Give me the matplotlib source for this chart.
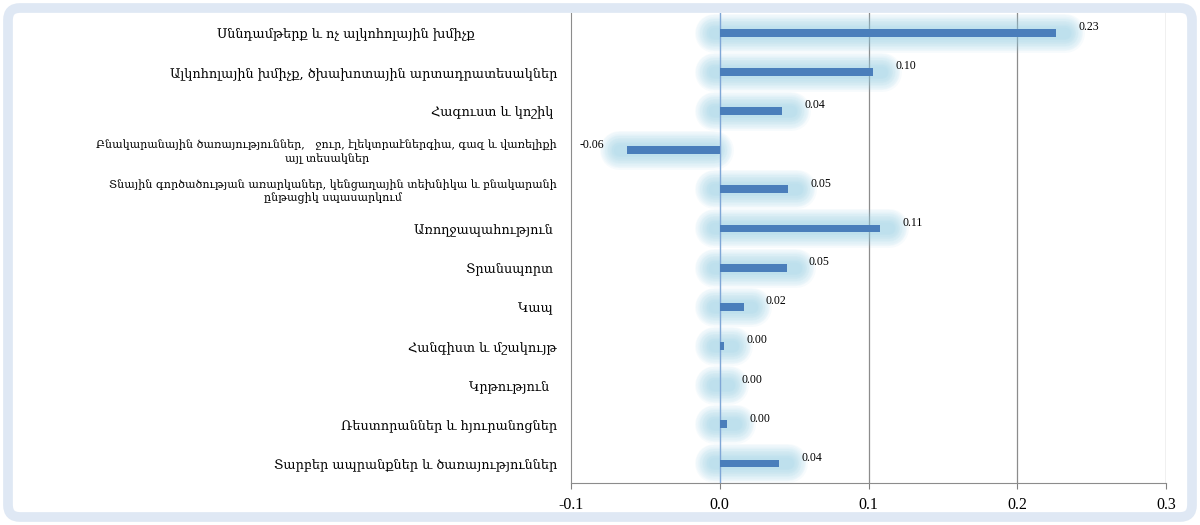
import matplotlib
matplotlib.use("Agg")
import matplotlib.pyplot as plt
from matplotlib.patches import FancyBboxPatch

# categories (top to bottom) and values
categories = [
    "Սննդամթերք և ոչ ալկոհոլային խմիչք                    ",
    "Ալկոհոլային խմիչք, ծխախոտային արտադրատեսակներ",
    "Հագուստ և կոշիկ ",
    "Բնակարանային ծառայություններ,   ջուր, էլեկտրաէներգիա, գազ և վառելիքի\nայլ տեսակներ",
    "Տնային գործածության առարկաներ, կենցաղային տեխնիկա և բնակարանի\nընթացիկ սպասարկում",
    "Առողջապահություն ",
    "Տրանսպորտ ",
    "Կապ ",
    "Հանգիստ և մշակույթ",
    "Կրթություն  ",
    "Ռեստորաններ և հյուրանոցներ",
    "Տարբեր ապրանքներ և ծառայություններ",
]
values = [0.226, 0.103, 0.042, -0.062, 0.046, 0.108, 0.045, 0.016, 0.003, 0.0, 0.005, 0.040]
value_labels = ["0.23", "0.10", "0.04", "-0.06", "0.05", "0.11", "0.05", "0.02", "0.00", "0.00", "0.00", "0.04"]
xticks = [-0.1, 0.0, 0.1, 0.2, 0.3]

bar_color = "#4a7ebb"
glow_color = "#8fcde4"
arm_font = ["DejaVu Serif", "DejaVu Sans"]
num_font = ["Liberation Serif", "DejaVu Serif"]

fig = plt.figure(figsize=(12, 5.25), dpi=100)
fig.patch.set_facecolor("white")

# light blue rounded frame
frame = FancyBboxPatch((0.08, 0.08), 11.84, 5.09,
                       boxstyle="round,pad=0,rounding_size=0.12",
                       transform=fig.dpi_scale_trans, facecolor="none",
                       edgecolor="#dfe8f4", linewidth=7, zorder=0)
fig.patches.append(frame)

ax = fig.add_axes([0.4758, 0.080, 0.4959, 0.895])
ax.set_facecolor("none")

n = len(categories)
ypos = list(range(n))

# soft glow behind bars (many thin translucent layers)
for y, v in zip(ypos, values):
    x_end = v + (0.006 if v >= 0 else -0.006)
    for lw in range(28, 6, -2):
        ax.plot([-0.004, x_end], [y, y], color=glow_color,
                lw=lw, alpha=0.07, solid_capstyle="round", zorder=1)

ax.barh(ypos, values, height=0.2, color=bar_color, zorder=3)

# value labels
for y, v, lab in zip(ypos, values, value_labels):
    if v < 0:
        ax.annotate(lab, (v, y), xytext=(-17, 4), textcoords="offset points",
                    ha="right", va="center", fontsize=8.5, family=num_font, zorder=4)
    else:
        ax.annotate(lab, (v, y), xytext=(16, 4), textcoords="offset points",
                    ha="left", va="center", fontsize=8.5, family=num_font, zorder=4)

ax.set_xlim(-0.1, 0.3)
ax.set_ylim(n - 0.5, -0.5)

ax.set_xticks(xticks)
ax.set_xticklabels([f"{t:.1f}" for t in xticks], family=num_font, fontsize=11.5)
ax.set_yticks(ypos)
ax.set_yticklabels(categories, family=arm_font, fontsize=9.3, multialignment="center")
for lbl in ax.get_yticklabels():
    if "\n" in lbl.get_text():
        lbl.set_fontsize(8.0)
ax.tick_params(axis="y", length=0, pad=10)
ax.tick_params(axis="x", direction="out", length=4, color="#808080", pad=6)

# grid lines
for t in [0.1, 0.2, 0.3]:
    ax.axvline(t, color="#8c8c8c", lw=0.9, zorder=0)
ax.axvline(0.0, color="#7fa6d6", lw=1.0, zorder=2)

for s in ["top", "right"]:
    ax.spines[s].set_visible(False)
ax.spines["left"].set_color("#8c8c8c")
ax.spines["bottom"].set_color("#8c8c8c")

fig.savefig("out.png", dpi=100)
